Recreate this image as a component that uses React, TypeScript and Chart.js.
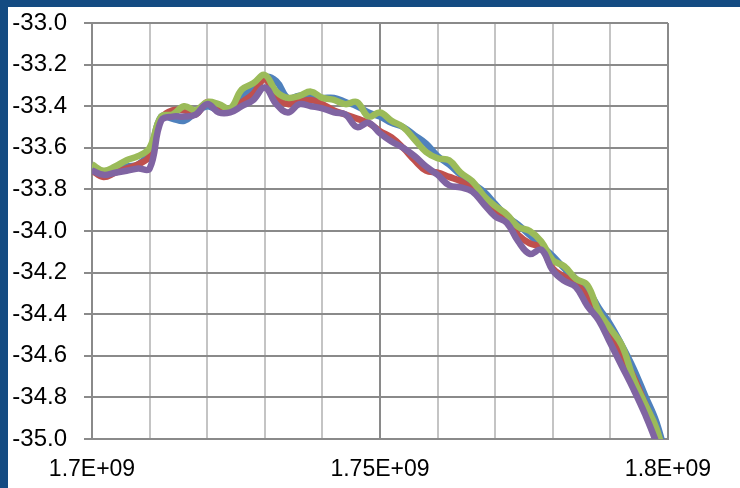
import { useEffect, useRef } from 'react';
import { Chart, registerables } from 'chart.js';

Chart.register(...registerables);

const xValues = [
  1.700e9, 1.702e9, 1.704e9, 1.706e9, 1.708e9, 1.710e9, 1.712e9, 1.714e9, 1.716e9, 1.718e9,
  1.720e9, 1.722e9, 1.724e9, 1.726e9, 1.728e9, 1.730e9, 1.732e9, 1.734e9, 1.736e9, 1.738e9,
  1.740e9, 1.742e9, 1.744e9, 1.746e9, 1.748e9, 1.750e9, 1.752e9, 1.754e9, 1.756e9, 1.758e9,
  1.760e9, 1.762e9, 1.764e9, 1.766e9, 1.768e9, 1.770e9, 1.772e9, 1.774e9, 1.776e9, 1.778e9,
  1.780e9, 1.782e9, 1.784e9, 1.786e9, 1.788e9, 1.790e9, 1.792e9, 1.794e9, 1.796e9, 1.798e9,
  1.800e9,
];

const blueSeries = [
  -33.70, -33.72, -33.71, -33.69, -33.68, -33.62, -33.45, -33.46, -33.47, -33.43,
  -33.40, -33.42, -33.42, -33.36, -33.31, -33.26, -33.28, -33.36, -33.35, -33.35,
  -33.36, -33.36, -33.38, -33.40, -33.43, -33.45, -33.48, -33.50, -33.54, -33.58,
  -33.64, -33.68, -33.73, -33.77, -33.81, -33.87, -33.93, -33.97, -34.02, -34.07,
  -34.12, -34.18, -34.23, -34.28, -34.37, -34.45, -34.55, -34.66, -34.79, -34.92,
  -35.12,
];

const redSeries = [
  -33.71, -33.74, -33.72, -33.70, -33.68, -33.64, -33.46, -33.42, -33.42, -33.44,
  -33.38, -33.41, -33.42, -33.38, -33.34, -33.27, -33.36, -33.39, -33.38, -33.37,
  -33.39, -33.42, -33.44, -33.46, -33.48, -33.52, -33.55, -33.60, -33.66, -33.71,
  -33.72, -33.74, -33.76, -33.80, -33.85, -33.90, -33.95, -34.02, -34.06, -34.08,
  -34.18, -34.22, -34.25, -34.32, -34.40, -34.49, -34.60, -34.70, -34.83, -34.96,
  -35.15,
];

const greenSeries = [
  -33.68, -33.71, -33.69, -33.66, -33.64, -33.60, -33.45, -33.44, -33.40, -33.42,
  -33.38, -33.39, -33.41, -33.32, -33.29, -33.25, -33.33, -33.36, -33.35, -33.33,
  -33.36, -33.37, -33.39, -33.38, -33.45, -33.43, -33.47, -33.50, -33.56, -33.62,
  -33.65, -33.66, -33.72, -33.76, -33.83, -33.88, -33.92, -33.98, -34.00, -34.05,
  -34.14, -34.17, -34.23, -34.26, -34.39, -34.47, -34.55, -34.71, -34.83, -34.95,
  -35.15,
];

const purpleSeries = [
  -33.71, -33.73, -33.72, -33.71, -33.70, -33.70, -33.47, -33.45, -33.45, -33.44,
  -33.39, -33.43, -33.43, -33.40, -33.37, -33.31, -33.39, -33.43, -33.39, -33.40,
  -33.41, -33.43, -33.44, -33.50, -33.48, -33.53, -33.57, -33.60, -33.64, -33.69,
  -33.73, -33.78, -33.79, -33.81, -33.87, -33.93, -33.96, -34.05, -34.11, -34.09,
  -34.19, -34.24, -34.27, -34.36, -34.43, -34.54, -34.65, -34.76, -34.88, -35.02,
  -35.20,
];

const seriesColors = ['#4f81bd', '#c0504d', '#9bbb59', '#8064a2'];

const xLabeledTicks = [1.7e9, 1.75e9, 1.8e9];
const xTickLabels = ['1.7E+09', '1.75E+09', '1.8E+09'];

const yMin = -35.0;
const yMax = -33.0;
const yStep = 0.2;

const DARK_GRID = '#8a8a8a';
const LIGHT_GRID = '#c4c4c4';
const FONT_FAMILY = "'Liberation Sans', Arial, sans-serif";

const backgroundPlugin = {
  id: 'bgPlugin',
  beforeDraw(chart: any) {
    const ctx = chart.ctx;
    ctx.save();
    ctx.fillStyle = '#144b82';
    ctx.fillRect(0, 0, chart.width, chart.height);
    ctx.fillStyle = '#ffffff';
    ctx.fillRect(8, 7, chart.width - 8, chart.height - 7);
    ctx.restore();
  },
};

export default function App() {
  const canvasRef = useRef<HTMLCanvasElement | null>(null);

  useEffect(() => {
    if (!canvasRef.current) return;
    const all = [blueSeries, redSeries, greenSeries, purpleSeries];
    const chart = new Chart(canvasRef.current, {
      type: 'line',
      data: {
        datasets: all.map((s, k) => ({
          label: 'Series' + (k + 1),
          data: xValues.map((x, i) => ({ x, y: s[i] })),
          borderColor: seriesColors[k],
          backgroundColor: seriesColors[k],
          borderWidth: 6.5,
          pointRadius: 0,
          tension: 0.4,
          fill: false,
          order: 3 - k,
          clip: { left: 0, top: 5, right: 0, bottom: 0 },
        })),
      },
      options: {
        responsive: false,
        animation: false,
        layout: { padding: { left: 0, top: 23, right: 72, bottom: 0 } },
        plugins: {
          legend: { display: false },
          tooltip: { enabled: false },
        },
        scales: {
          x: {
            type: 'linear',
            min: 1.7e9,
            max: 1.8e9,
            afterFit: (s: any) => { s.height = 49; },
            ticks: {
              stepSize: 1e7,
              autoSkip: false,
              maxRotation: 0,
              padding: 17,
              color: '#000000',
              font: { family: FONT_FAMILY, size: 23 },
              callback: (v: any) => {
                const idx = xLabeledTicks.indexOf(Number(v));
                return idx >= 0 ? xTickLabels[idx] : '';
              },
            },
            grid: {
              drawTicks: false,
              lineWidth: 2,
              color: (c: any) =>
                c.tick && xLabeledTicks.indexOf(c.tick.value) >= 0 ? DARK_GRID : LIGHT_GRID,
            },
            border: { display: true, color: DARK_GRID, width: 2 },
          },
          y: {
            type: 'linear',
            min: yMin,
            max: yMax,
            afterFit: (s: any) => {
              s.width = 92;
              s.paddingTop = 0;
              s.paddingBottom = 0;
            },
            ticks: {
              stepSize: yStep,
              padding: 17,
              color: '#000000',
              font: { family: FONT_FAMILY, size: 24 },
              callback: (v: any) => Number(v).toFixed(1),
            },
            grid: {
              drawTicks: true,
              tickLength: 8,
              lineWidth: 2,
              color: DARK_GRID,
            },
            border: { display: true, color: DARK_GRID, width: 2 },
          },
        },
      },
      plugins: [backgroundPlugin],
    });
    return () => chart.destroy();
  }, []);

  return (
    <canvas
      ref={canvasRef}
      width={740}
      height={488}
      style={{ position: 'fixed', left: 0, top: 0, width: 740, height: 488 }}
    />
  );
}
